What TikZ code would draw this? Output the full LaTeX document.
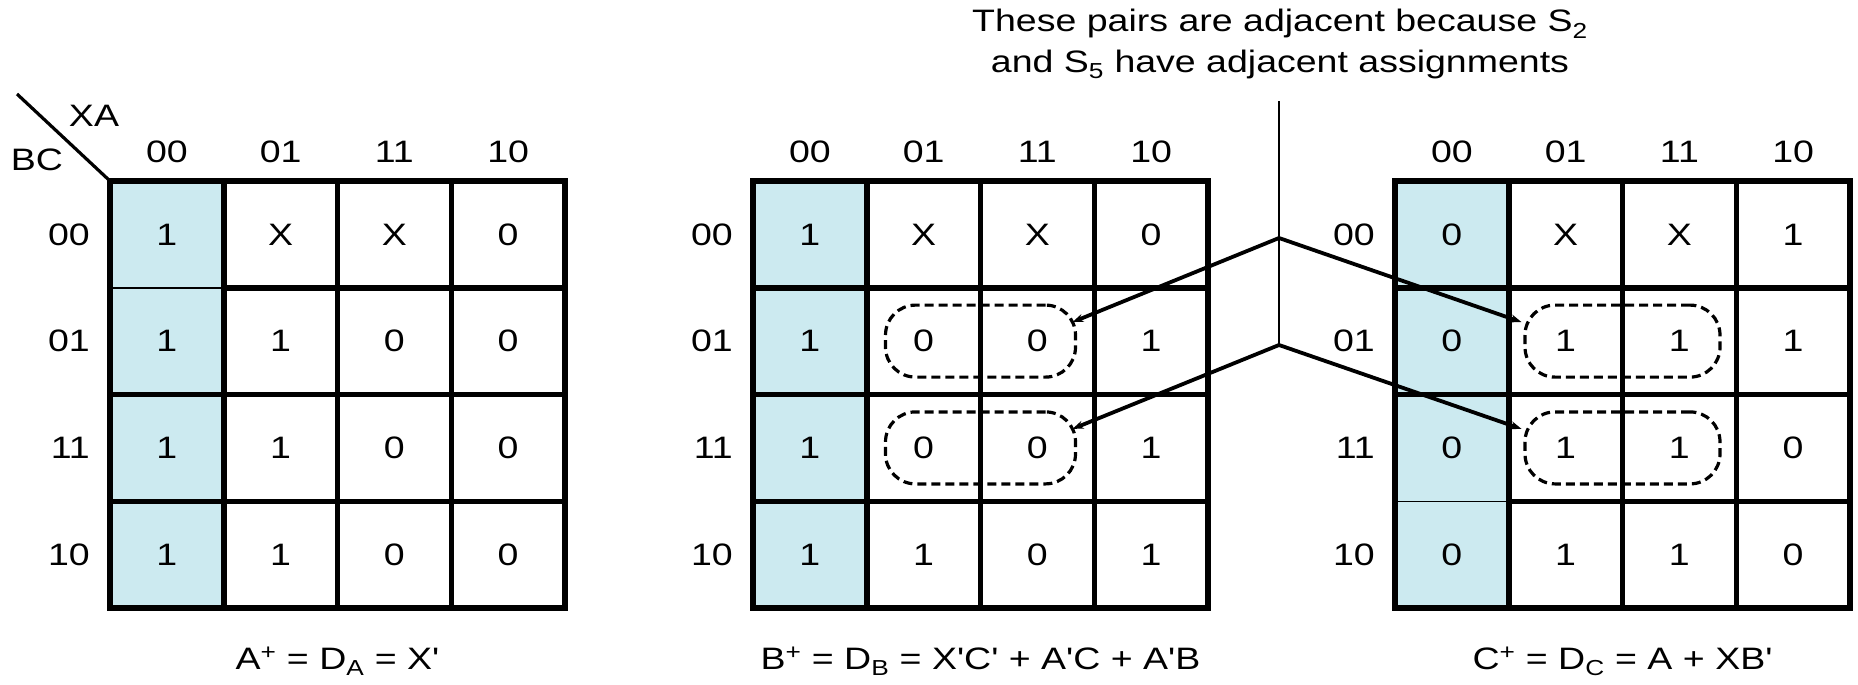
\documentclass[tikz,border=0pt]{standalone}
\usepackage{fontspec}
\newfontfamily\lab{Liberation Sans}[FakeStretch=1.21]
\usetikzlibrary{arrows.meta,calc}
\definecolor{shadeblue}{RGB}{204,234,240}
\newcommand\kmap[3]{%
  \fill[shadeblue] (#2,181) rectangle (#2+113.75,608);
  \foreach \v [count=\k from 0] in {#3} {
    \pgfmathtruncatemacro\rr{div(\k,4)}
    \pgfmathtruncatemacro\cc{mod(\k,4)}
    \node[lbl] (#1-\rr-\cc) at (#2+56.875+113.75*\cc, 234.375+106.75*\rr) {\v};
  }
  \foreach \i in {1,2,3} {
    \draw[gridline] (#2+113.75*\i,181) -- (#2+113.75*\i,608);
    \draw[gridline] (#2,181+106.75*\i) -- (#2+455,181+106.75*\i);
  }
  \draw[gridline] (#2,181) rectangle (#2+455,608);
  \foreach \cl [count=\j from 0] in {00,01,11,10} {
    \node[lbl] (#1-col\j) at (#2+56.875+113.75*\j, 152) {\cl};
    \node[lbl, anchor=east] (#1-row\j) at (#2-20, 234.375+106.75*\j) {\cl};
  }
}
\newcommand\thinseg[2]{% #1 left x, #2 y of row line
  \fill[shadeblue] (#1+2.75,#2-2.9) rectangle (#1+111,#2+2.9);
  \draw[thinline] (#1+2.75,#2) -- (#1+111,#2);
}
\begin{document}
\begin{tikzpicture}[x=1pt,y=-1pt,
  gridline/.style={line width=5.5pt},
  thinline/.style={line width=1.5pt},
  lbl/.style={font={\lab\fontsize{31}{37}\selectfont}, inner sep=0pt},
  notestyle/.style={font={\lab\fontsize{31}{41}\selectfont}, inner sep=0pt, align=center},
  pairbox/.style={draw, dash pattern=on 9pt off 5pt, line width=3.2pt, rounded corners=30pt,
    minimum width=190pt, minimum height=72pt, inner sep=0pt},
  conn/.style={line width=3.8pt, -{Stealth[length=11pt,width=8pt]}},
  stem/.style={line width=2.6pt},
  diag/.style={line width=3.2pt},
]
\useasboundingbox (0,0) rectangle (1858,685);

% Karnaugh maps
\kmap{A}{110}{1,X,X,0, 1,1,0,0, 1,1,0,0, 1,1,0,0}
\kmap{B}{753}{1,X,X,0, 1,0,0,1, 1,0,0,1, 1,1,0,1}
\kmap{C}{1395}{0,X,X,1, 0,1,1,1, 0,1,1,0, 0,1,1,0}
\thinseg{110}{287.75}
\thinseg{1395}{501.25}

% corner labels
\coordinate (dgstart) at (17,94);
\coordinate (Acorner) at (110,181);
\draw[diag] (dgstart) -- (Acorner);
\node[lbl] (xa) at (94,116) {XA};
\node[lbl] (bc) at (37,160) {BC};

% equations
\node[lbl, anchor=base] (eqA) at (337.5,669) {A\textsuperscript{+} = D\textsubscript{A} = X'};
\node[lbl, anchor=base] (eqB) at (980.5,669) {B\textsuperscript{+} = D\textsubscript{B} = X'C' + A'C + A'B};
\node[lbl, anchor=base] (eqC) at (1622.5,669) {C\textsuperscript{+} = D\textsubscript{C} = A + XB'};

% pairs
\node[pairbox] (pB1) at (980.5,341.1) {};
\node[pairbox] (pB2) at (980.5,447.9) {};
\node[pairbox, minimum width=195pt] (pC1) at (1622.5,341.1) {};
\node[pairbox, minimum width=195pt] (pC2) at (1622.5,447.9) {};

% note and connectors
\node[notestyle] (note) at (1280,44) {These pairs are adjacent because S\textsubscript{2}\\and S\textsubscript{5} have adjacent assignments};
\coordinate (stemtop) at (1279,101);
\coordinate (j1) at (1279,238);
\coordinate (j2) at (1279,345);
\draw[stem] (stemtop) -- (j2);
\draw[conn] (j1) -- ($(pB1.center)+(92,-19)$);
\draw[conn] (j1) -- ($(pC1.center)+(-101,-19)$);
\draw[conn] (j2) -- ($(pB2.center)+(92,-19)$);
\draw[conn] (j2) -- ($(pC2.center)+(-101,-19)$);
\end{tikzpicture}
\end{document}
